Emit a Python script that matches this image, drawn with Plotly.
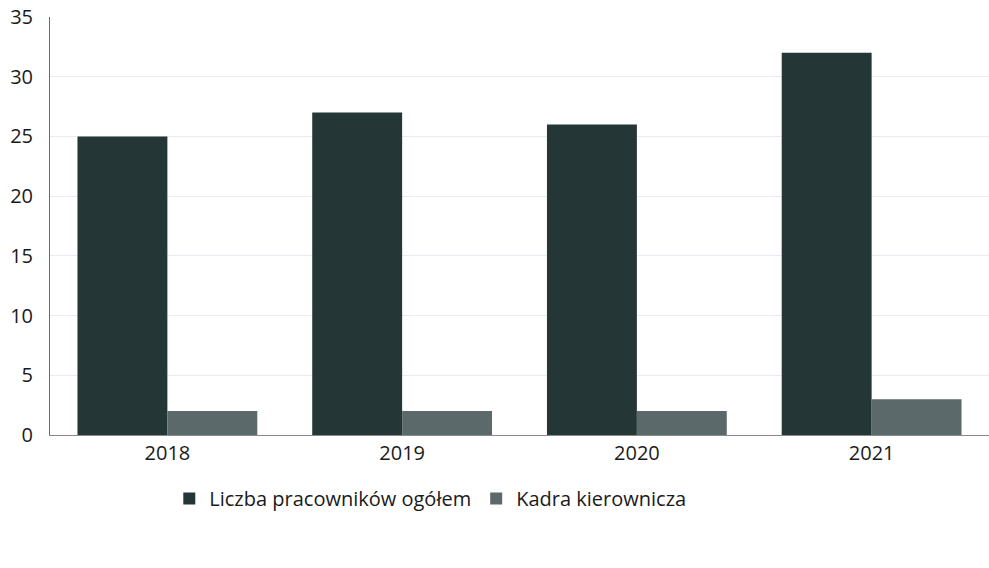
import plotly.graph_objects as go

years = ["2018", "2019", "2020", "2021"]
total = [25, 27, 26, 32]
managers = [2, 2, 2, 3]
series_names = ["Liczba pracowników ogółem", "Kadra kierownicza"]
y_ticks = [0, 5, 10, 15, 20, 25, 30, 35]

fig = go.Figure()
fig.add_trace(go.Bar(x=years, y=total, name=series_names[0],
                     marker=dict(color="#243636", line=dict(width=0))))
fig.add_trace(go.Bar(x=years, y=managers, name=series_names[1],
                     marker=dict(color="#5c696a", line=dict(width=0))))

fig.update_layout(
    width=989, height=568,
    margin=dict(l=50, r=0, t=17, b=133),
    paper_bgcolor="white", plot_bgcolor="white",
    barmode="group", bargap=0.234, bargroupgap=0,
    font=dict(family="Open Sans, Liberation Sans, sans-serif", size=20, color="#1a1a1a"),
    showlegend=True,
    legend=dict(orientation="h", x=0.405, xanchor="center", y=-0.105, yanchor="top",
                font=dict(size=20), itemwidth=30, traceorder="normal"),
    xaxis=dict(showline=True, linecolor="#8a8a8a", linewidth=1, ticks="",
               tickfont=dict(size=20), showgrid=False, automargin=False),
    yaxis=dict(range=[0, 35], tickvals=y_ticks, showline=True, linecolor="#6a6a6a",
               linewidth=1, showgrid=True, gridcolor="#e8ecf2", gridwidth=1,
               zeroline=False, ticks="", tickfont=dict(size=20), ticklabelstandoff=12,
               ticklabeloverflow="allow", automargin=False),
)

fig.write_html("out.html", config={"displayModeBar": False},
               post_script="document.body.style.margin='0';document.body.style.overflow='hidden';")
